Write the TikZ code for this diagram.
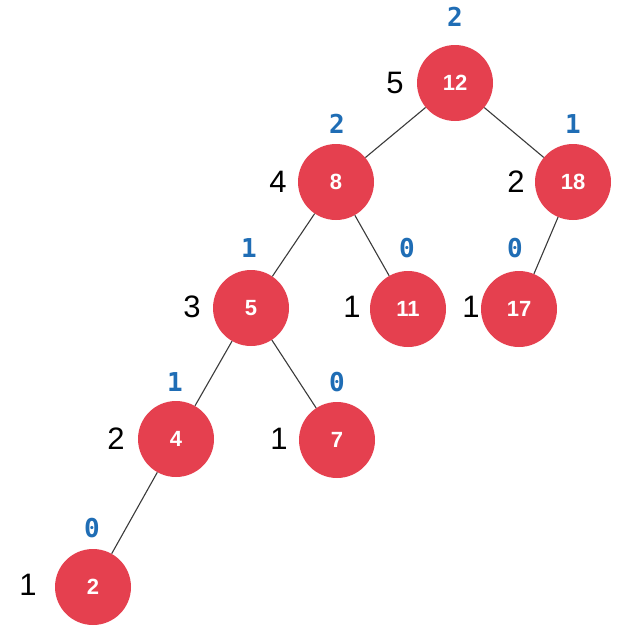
\documentclass[tikz,border=0pt]{standalone}
\usepackage{fontspec}
\setmainfont{Liberation Sans}
\newfontfamily\monob{DejaVu Sans Mono}
\definecolor{nodered}{HTML}{E5404F}
\definecolor{hblue}{HTML}{1F6DB5}
\definecolor{edgegray}{HTML}{3A3A3A}
\begin{document}
\begin{tikzpicture}[x=1pt,y=-1pt,
  tnode/.style={circle,fill=nodered,minimum size=76pt,inner sep=0pt,text=white,font=\fontsize{22}{22}\selectfont\bfseries},
  cnt/.style={font=\fontsize{31}{31}\selectfont,text=black,inner sep=0pt},
  hgt/.style={font=\fontsize{26}{26}\selectfont\monob\bfseries,text=hblue,inner sep=0pt},
  edge/.style={draw=edgegray,line width=1.1pt}]
\useasboundingbox (0,0) rectangle (621,629);
\node[tnode] (n12) at (455,83) {12};
\node[tnode] (n8) at (336,182) {8};
\node[tnode] (n18) at (573,182) {18};
\node[tnode] (n5) at (251,308) {5};
\node[tnode] (n11) at (408,309) {11};
\node[tnode] (n17) at (519,309) {17};
\node[tnode] (n4) at (176,439) {4};
\node[tnode] (n7) at (337,440) {7};
\node[tnode] (n2) at (93,587) {2};
\draw[edge] (n12) -- (n8);
\draw[edge] (n12) -- (n18);
\draw[edge] (n8) -- (n5);
\draw[edge] (n8) -- (n11);
\draw[edge] (n18) -- (n17);
\draw[edge] (n5) -- (n4);
\draw[edge] (n5) -- (n7);
\draw[edge] (n4) -- (n2);
\node[cnt] (c12) at (395,83) {5};
\node[cnt] (c8) at (278,182) {4};
\node[cnt] (c18) at (516,182) {2};
\node[cnt] (c5) at (192,307) {3};
\node[cnt] (c11) at (352,307) {1};
\node[cnt] (c17) at (471,307) {1};
\node[cnt] (c4) at (116,439) {2};
\node[cnt] (c7) at (279,439) {1};
\node[cnt] (c2) at (28,585) {1};
\node[hgt] (h12) at (455,17) {2};
\node[hgt] (h8) at (337,124) {2};
\node[hgt] (h18) at (573,124) {1};
\node[hgt] (h5) at (249,248) {1};
\node[hgt] (h11) at (407,248) {0};
\node[hgt] (h17) at (515,248) {0};
\node[hgt] (h4) at (175,382) {1};
\node[hgt] (h7) at (337,382) {0};
\node[hgt] (h2) at (92,528) {0};
\end{tikzpicture}
\end{document}
